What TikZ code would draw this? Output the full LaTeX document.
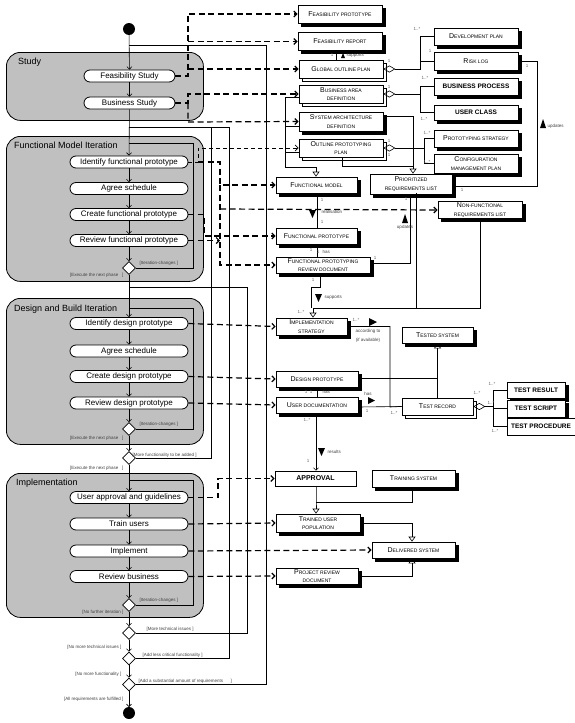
\documentclass[tikz,border=0pt]{standalone}
\usepackage{fontspec}
\setmainfont{Liberation Sans}
\usetikzlibrary{arrows.meta,shapes.geometric,shadows}
\definecolor{regiongray}{HTML}{C0C0C0}
\newcommand{\smcap}[2]{{\fontsize{7}{8}\selectfont #1}{\fontsize{5}{8}\selectfont #2}}
\newcommand{\smrest}[1]{{\fontsize{5}{8}\selectfont #1}}
\begin{document}
\begin{tikzpicture}[x=1pt,y=-1pt,
  act/.style={draw, fill=white, rounded corners=6pt, minimum width=118pt, minimum height=12pt, inner sep=0pt, line width=0.8pt, font=\fontsize{8}{8}\selectfont},
  actS/.style={act, minimum width=91pt},
  region/.style={draw, fill=regiongray, rounded corners=14pt, line width=0.8pt},
  reglabel/.style={anchor=west, inner sep=0pt, font=\fontsize{9}{9}\selectfont},
  obj/.style={draw, fill=white, inner sep=0pt, align=center, line width=0.7pt, font=\fontsize{5}{8.5}\selectfont},
  bobj/.style={obj, font=\fontsize{6.5}{8}\selectfont\bfseries},
  shad/.style={copy shadow={shadow xshift=3pt, shadow yshift=-3pt, fill=black, draw=black}},
  stack/.style={copy shadow={shadow xshift=3pt, shadow yshift=-3pt, fill=white, draw=black, line width=0.6pt}},
  dec/.style={diamond, draw, fill=white, minimum width=13pt, minimum height=13pt, inner sep=0pt, line width=0.7pt},
  flow/.style={-{Straight Barb[length=2.5pt,width=5pt]}, line width=0.6pt},
  loopline/.style={line width=0.6pt},
  objflow/.style={-{Straight Barb[length=3pt,width=6pt]}, line width=1.2pt, dash pattern=on 6pt off 3.5pt},
  thinflow/.style={-{Straight Barb[length=3pt,width=6pt]}, line width=0.8pt, dash pattern=on 4pt off 3pt},
  assoc/.style={line width=0.6pt},
  gen/.style={-{Triangle[open,length=5pt,width=7pt]}, line width=0.6pt},
  agg/.style={{Diamond[open,length=12pt,width=7pt]}-, line width=0.6pt},
  guard/.style={font=\fontsize{4.5}{5}\selectfont, text=black!75, inner sep=0.5pt},
  mult/.style={font=\fontsize{4.5}{5}\selectfont, text=black!60, inner sep=0.5pt}
]
\useasboundingbox[fill=white] (0,0) rectangle (575,723);

% ---------- regions ----------
\node[region, minimum width=197pt, minimum height=68pt, anchor=north west] (rstudy) at (6,52) {};
\node[region, minimum width=197pt, minimum height=145pt, anchor=north west] (rfmi) at (6,136) {};
\node[region, minimum width=197pt, minimum height=146pt, anchor=north west] (rdb) at (6,298) {};
\node[region, minimum width=197pt, minimum height=144pt, anchor=north west] (rimp) at (6,473) {};
\node[reglabel] (lstudy) at (18,62) {Study};
\node[reglabel] (lfmi) at (14,145) {Functional Model Iteration};
\node[reglabel] (ldb) at (14,309) {Design and Build Iteration};
\node[reglabel] (limp) at (16,483) {Implementation};

% ---------- junction points ----------
\coordinate (j45) at (129,45);
\coordinate (j127) at (129,127);
\coordinate (j143) at (129,143);
\coordinate (j287) at (129,287);
\coordinate (j308) at (129,308);
\coordinate (j480) at (129,480);

% ---------- activities ----------
\fill (129,29) circle (6pt);
\coordinate (init) at (129,29);
\node[actS] (fs) at (129.5,76) {Feasibility Study};
\node[actS] (bs) at (129.5,103) {Business Study};
\node[act] (ifp) at (129,162) {Identify functional prototype};
\node[act] (as1) at (129,188.5) {Agree schedule};
\node[act] (cfp) at (129,214.5) {Create functional prototype};
\node[act] (rfp) at (129,240.5) {Review functional prototype};
\node[dec] (d1) at (129,268) {};
\node[act] (idp) at (129,323.5) {Identify design prototype};
\node[act] (as2) at (129,351) {Agree schedule};
\node[act] (cdp) at (129,376.5) {Create design prototype};
\node[act] (rdp) at (129,403) {Review design prototype};
\node[dec] (d2) at (129,429) {};
\node[dec] (d3) at (129,458) {};
\node[act] (uag) at (129,497.5) {User approval and guidelines};
\node[act] (tu) at (129,524) {Train users};
\node[act] (impl) at (129,551) {Implement};
\node[act] (rb) at (129,576.5) {Review business};
\node[dec] (d4) at (129,605) {};
\node[dec] (d5) at (129,633) {};
\node[dec] (d6) at (129,658.5) {};
\node[dec] (d7) at (129,684.5) {};
\fill (129,713) circle (6pt);
\coordinate (final) at (129,707);

% main flow
\draw[flow] (init) -- (fs);
\draw[flow] (fs) -- (bs);
\draw[flow] (bs) -- (ifp);
\draw[flow] (ifp) -- (as1);
\draw[flow] (as1) -- (cfp);
\draw[flow] (cfp) -- (rfp);
\draw[flow] (rfp) -- (d1);
\draw[flow] (d1) -- (idp);
\draw[flow] (idp) -- (as2);
\draw[flow] (as2) -- (cdp);
\draw[flow] (cdp) -- (rdp);
\draw[flow] (rdp) -- (d2);
\draw[flow] (d2) -- (d3);
\draw[flow] (d3) -- (uag);
\draw[flow] (uag) -- (tu);
\draw[flow] (tu) -- (impl);
\draw[flow] (impl) -- (rb);
\draw[flow] (rb) -- (d4);
\draw[flow] (d4) -- (d5);
\draw[flow] (d5) -- (d6);
\draw[flow] (d6) -- (d7);
\draw[flow] (d7) -- (final);

% loops
\draw[loopline] (d1.east) -- (193,268) -- (193,143) -- (j143);
\draw[loopline] (d2.east) -- (193,429) -- (193,308) -- (j308);
\draw[loopline] (d4.east) -- (193,605) -- (193,480) -- (j480);
\draw[loopline] (d3.east) -- (211,458) -- (211,127) -- (j127);
\draw[loopline] (d5.east) -- (247,633) -- (247,287) -- (j287);
\draw[loopline] (d6.east) -- (229,658.5) -- (229,127) -- (211,127);
\draw[loopline] (d7.east) -- (266,684.5) -- (266,45) -- (j45);

% guards
\node[guard, anchor=south west] (g1) at (139,266) {[Iteration-changes ]};
\node[guard, anchor=east] (g2) at (124,275) {[Execute the next phase\ \ \ ]};
\node[guard, anchor=south west] (g3) at (139,427) {[Iteration-changes ]};
\node[guard, anchor=east] (g4) at (124,438) {[Execute the next phase\ \ \ ]};
\node[guard, anchor=south west] (g5) at (132,458) {[More functionality to be added ]};
\node[guard, anchor=east] (g6) at (124,468) {[Execute the next phase\ \ \ ]};
\node[guard, anchor=south west] (g7) at (139,603) {[Iteration-changes ]};
\node[guard, anchor=east] (g8) at (124,612) {[No further iteration ]};
\node[guard, anchor=south west] (g9) at (146,632) {[More technical issues ]};
\node[guard, anchor=east] (g10) at (122,647) {[No more technical issues ]};
\node[guard, anchor=south west] (g11) at (142,658) {[Add less critical functionality ]};
\node[guard, anchor=east] (g12) at (122,674) {[No more functionality ]};
\node[guard, anchor=south west] (g13) at (138,684) {[Add a substantial amount of requirements\ \ \ \ \ \ ]};
\node[guard, anchor=east] (g14) at (124,699) {[All requirements are fulfilled ]};

% ---------- objects ----------
\node[obj, shad, minimum width=84pt, minimum height=18pt] (fpt) at (340,14) {\smcap{F}{EASIBILITY PROTOTYPE}};
\node[obj, shad, minimum width=84pt, minimum height=18pt] (frep) at (340,41.5) {\smcap{F}{EASIBILITY REPORT}};
\node[obj, stack, minimum width=84pt, minimum height=18pt] (gop) at (341,69) {\smcap{G}{LOBAL OUTLINE PLAN}};
\node[obj, stack, minimum width=84pt, minimum height=18pt] (bad) at (341,94) {\smcap{B}{USINESS AREA}\\\smrest{DEFINITION}};
\node[obj, shad, minimum width=84pt, minimum height=19pt] (sad) at (341,121.5) {\smcap{S}{YSTEM ARCHITECTURE}\\\smrest{DEFINITION}};
\node[obj, stack, minimum width=84pt, minimum height=18pt] (opp) at (341,148) {\smcap{O}{UTLINE PROTOTYPING}\\\smrest{PLAN}};
\node[obj, shad, minimum width=81pt, minimum height=16pt] (fm) at (316.5,185) {\smcap{F}{UNCTIONAL MODEL}};
\node[obj, shad, minimum width=81pt, minimum height=16pt] (fproto) at (316.5,236) {\smcap{F}{UNCTIONAL PROTOTYPE}};
\node[obj, shad, minimum width=94pt, minimum height=16pt] (fprd) at (323,265) {\smcap{F}{UNCTIONAL PROTOTYPING}\\\smrest{REVIEW DOCUMENT}};
\node[obj, shad, minimum width=71pt, minimum height=17pt] (is) at (311.5,326.5) {\smcap{I}{MPLEMENTATION}\\\smrest{STRATEGY}};
\node[obj, shad, minimum width=82pt, minimum height=16pt] (dp) at (317,379) {\smcap{D}{ESIGN PROTOTYPE}};
\node[obj, shad, minimum width=82pt, minimum height=16pt] (ud) at (317,405) {\smcap{U}{SER DOCUMENTATION}};
\node[bobj, minimum width=81pt, minimum height=15pt, font=\fontsize{7}{8}\selectfont\bfseries] (appr) at (315.5,478.5) {APPROVAL};
\node[obj, shad, minimum width=84pt, minimum height=18pt] (tup) at (318,523) {\smcap{T}{RAINED USER}\\\smrest{POPULATION}};
\node[obj, shad, minimum width=82pt, minimum height=16pt] (prd) at (317,576) {\smcap{P}{ROJECT REVIEW}\\\smrest{DOCUMENT}};

\node[obj, shad, minimum width=84pt, minimum height=17pt] (devp) at (476,36.5) {\smcap{D}{EVELOPMENT PLAN}};
\node[obj, shad, minimum width=84pt, minimum height=18pt] (riskl) at (476,61) {\smcap{R}{ISK LOG}};
\node[bobj, shad, minimum width=84pt, minimum height=17pt] (bp) at (476,86.5) {BUSINESS PROCESS};
\node[bobj, shad, minimum width=84pt, minimum height=15pt] (uc) at (476,112.5) {USER CLASS};
\node[obj, shad, minimum width=84pt, minimum height=17pt] (ps) at (476,138.5) {\smcap{P}{ROTOTYPING STRATEGY}};
\node[obj, shad, minimum width=84pt, minimum height=19pt] (cmp) at (476,163.5) {\smcap{C}{ONFIGURATION}\\\smrest{MANAGEMENT PLAN}};
\node[obj, shad, minimum width=82pt, minimum height=20pt] (prl) at (411,184) {\smcap{P}{RIORITIZED}\\\smrest{REQUIREMENTS LIST}};
\node[obj, shad, minimum width=84pt, minimum height=17pt] (nfrl) at (480,210) {\smcap{N}{ON-FUNCTIONAL}\\\smrest{REQUIREMENTS LIST}};
\node[obj, shad, minimum width=71pt, minimum height=16pt] (ts) at (437.5,335) {\smcap{T}{ESTED SYSTEM}};
\node[obj, stack, minimum width=71pt, minimum height=17pt] (tr) at (437.5,406.5) {\smcap{T}{EST RECORD}};
\node[bobj, shad, minimum width=58pt, minimum height=16pt] (tres) at (536,390) {TEST RESULT};
\node[bobj, shad, minimum width=58pt, minimum height=17pt] (tscr) at (536,408.5) {TEST SCRIPT};
\node[bobj, minimum width=68pt, minimum height=17pt] (tproc) at (541,426.5) {TEST PROCEDURE};
\node[obj, shad, minimum width=83pt, minimum height=17pt] (train) at (413.5,478.5) {\smcap{T}{RAINING SYSTEM}};
\node[obj, shad, minimum width=83pt, minimum height=16pt] (ds) at (413.5,550) {\smcap{D}{ELIVERED SYSTEM}};

% ---------- object flows (dashed) ----------
\draw[objflow] (fs.east) -- (188,76) -- (188,14) -- (fpt.west);
\draw[objflow] (188,41.5) -- (frep.west);
\draw[objflow] (188,69) -- (gop.west);
\draw[objflow] (bs.east) -- (188,103) -- (188,94) -- (bad.west);
\draw[objflow] (188,103) -- (188,122) -- (sad.west);
\draw[thinflow] (ifp.east) -- (198,162) -- (198,148) -- (opp.west);
\draw[objflow] (198,162) -- (220,162) -- (220,185) -- (fm.west);
\draw[objflow] (220,185) -- (220,265) -- (fprd.west);
\draw[objflow] (220,209) -- (nfrl.west);
\draw[objflow] (rfp.east) -- (220,240.5);
\draw[objflow] (cfp.east) -- (204,214.5) -- (204,236) -- (fproto.west);
\draw[objflow] (idp.east) -- (is.west);
\draw[objflow] (cdp.east) -- (dp.west);
\draw[objflow] (rdp.east) -- (ud.west);
\draw[objflow] (uag.east) -- (218,497.5) -- (218,478.5) -- (appr.west);
\draw[objflow] (tu.east) -- (tup.west);
\draw[objflow] (impl.east) -- (ds.west);
\draw[objflow] (rb.east) -- (prd.west);

% ---------- associations ----------
\draw[assoc] (frep.south -| 336,0) -- (gop.north -| 336,0);
\node[mult] (m1) at (332,55) {1};
\node[guard, anchor=west] (lsup1) at (346,56) {supports};
\fill (341,58) -- (345,58) -- (343,53) -- cycle;

\draw[agg] (gop.east) -- (420,69) -- (420,36.5) -- (devp.west);
\draw[assoc] (420,61) -- (riskl.west);
\node[mult] (m2) at (417,29) {1..*};
\node[mult] (m3) at (430,51) {1};
\node[mult] (m4) at (389,61) {1};

\draw[agg] (bad.east) -- (420,94) -- (420,86.5) -- (bp.west);
\draw[assoc] (420,94) -- (420,112.5) -- (uc.west);
\node[mult] (m5) at (425,78) {1..*};
\node[mult] (m6) at (424,119) {1..*};
\node[mult] (m7) at (389,87) {1};

\draw[agg] (opp.east) -- (424,148) -- (424,138.5) -- (ps.west);
\draw[assoc] (424,148) -- (424,163.5) -- (cmp.west);
\node[mult] (m8) at (427,133) {1..*};
\node[mult] (m9) at (427,162) {1..*};
\node[mult] (m10) at (389,141) {1};
\node[mult] (m11) at (389,155) {1};

\draw[gen] (sad.east |- 0,116) -- (413,116) -- (prl.north -| 413,0);
\draw[assoc] (opp.south -| 342,0) -- (342,166) -- (413,166);

\draw[gen] (285,97) -- (285,167) -- (316,167) -- (fm.north -| 316,0);
\draw[assoc] (bad.west |- 0,97) -- (285,97);
\draw[assoc] (sad.west |- 0,126) -- (285,126);
\draw[assoc] (opp.west |- 0,152) -- (285,152);

\draw[assoc] (riskl.east) -- (537,61) -- (537,186) -- (prl.east |- 0,186);
\node[mult] (m12) at (527,66) {1};
\node[mult] (m13) at (462,190) {1};
\fill (540,128) -- (546,128) -- (543,119) -- cycle;
\node[guard, anchor=west] (lupd1) at (547,126) {updates};

\draw[assoc] (fm.south -| 317,0) -- (fproto.north -| 317,0);
\node[mult] (m14) at (322,200) {1};
\node[mult] (m15) at (322,222) {1};
\fill (309,210) -- (316,210) -- (312.5,218) -- cycle;
\node[guard, anchor=west] (lreal) at (321,212) {realisation};
\draw[assoc] (fproto.south -| 317,0) -- (fprd.north -| 317,0);
\node[mult] (m16) at (311,250) {1};
\node[mult] (m17) at (318,252) {1};
\node[guard, anchor=west] (lhas1) at (322,252) {has};

\draw[assoc] (fprd.east |- 0,263) -- (410,263) -- (prl.south -| 410,0);
\node[mult] (m18) at (375,258) {1};
\node[mult] (m19) at (406,199) {1};
\fill (402,223) -- (408,223) -- (405,214) -- cycle;
\node[guard, anchor=north] (lupd2) at (405,225) {updates};

\draw[assoc] (fprd.south -| 320,0) -- (320,287) -- (311,287) -- (311,308);
\draw[assoc] (416,193) -- (416,308);
\draw[assoc] (nfrl.south -| 480,0) -- (480,308) -- (416,308);
\draw[gen] (416,308) -- (313,308) -- (is.north -| 313,0);
\node[mult] (m20) at (313,280) {1};
\node[mult] (m21) at (301,312) {1..*};
\fill (315,294) -- (322,294) -- (318.5,302) -- cycle;
\node[guard, anchor=west] (lsup2) at (324,298) {supports};

\draw[assoc] (is.east) -- (390,326.5) -- (390,407) -- (tr.west);
\node[mult] (m22) at (356,320) {1..*};
\fill (369,318) -- (369,326) -- (377,322) -- cycle;
\node[guard] (lacc) at (368,331) {according to};
\node[guard] (lavail) at (368,340) {(if available)};
\node[mult] (m23) at (394,413) {1..*};

\draw[gen] (tr.north) -- (ts.south);
\draw[assoc] (dp.east |- 0,378) -- (437.5,378);

\draw[assoc] (dp.south -| 317,0) -- (ud.north -| 317,0);
\node[mult] (m24) at (306,392) {1};
\node[mult] (m25) at (311,392) {1};
\node[guard, anchor=west] (lhas2) at (322,392) {has};

\draw[assoc] (ud.east |- 0,407) -- (tr.west);
\node[guard] (lhas3) at (368,394) {has};
\fill (368,397) -- (368,404) -- (375,400.5) -- cycle;
\node[mult] (m26) at (367,411) {1};

\draw[agg] (tr.east) -- (493,406.5) -- (493,390) -- (tres.west);
\draw[assoc] (493,406.5) -- (493,426.5) -- (tproc.west);
\draw[assoc] (493,408.5) -- (tscr.west);
\node[mult] (m27) at (492,384) {1..*};
\node[mult] (m28) at (477,393) {1..*};
\node[mult] (m29) at (491,403) {1..*};
\node[mult] (m30) at (495,431) {1..*};

\draw[flow] (ud.south -| 316,0) -- (appr.north -| 316,0);
\node[mult] (m31) at (307,420) {1..*};
\fill (318,448) -- (325,448) -- (321.5,456) -- cycle;
\node[guard, anchor=west] (lres) at (327,452) {results};
\node[mult] (m32) at (308,461) {1};

\draw[gen] (appr.south -| 316,0) -- (316,502) -- (tup.north -| 316,0);
\draw[assoc] (train.south -| 412,0) -- (412,502) -- (316,502);

\draw[gen] (tup.east |- 0,523) -- (412,523) -- (ds.north -| 412,0);
\draw[gen] (prd.east |- 0,576) -- (412,576) -- (ds.south -| 412,0);

\end{tikzpicture}
\end{document}
